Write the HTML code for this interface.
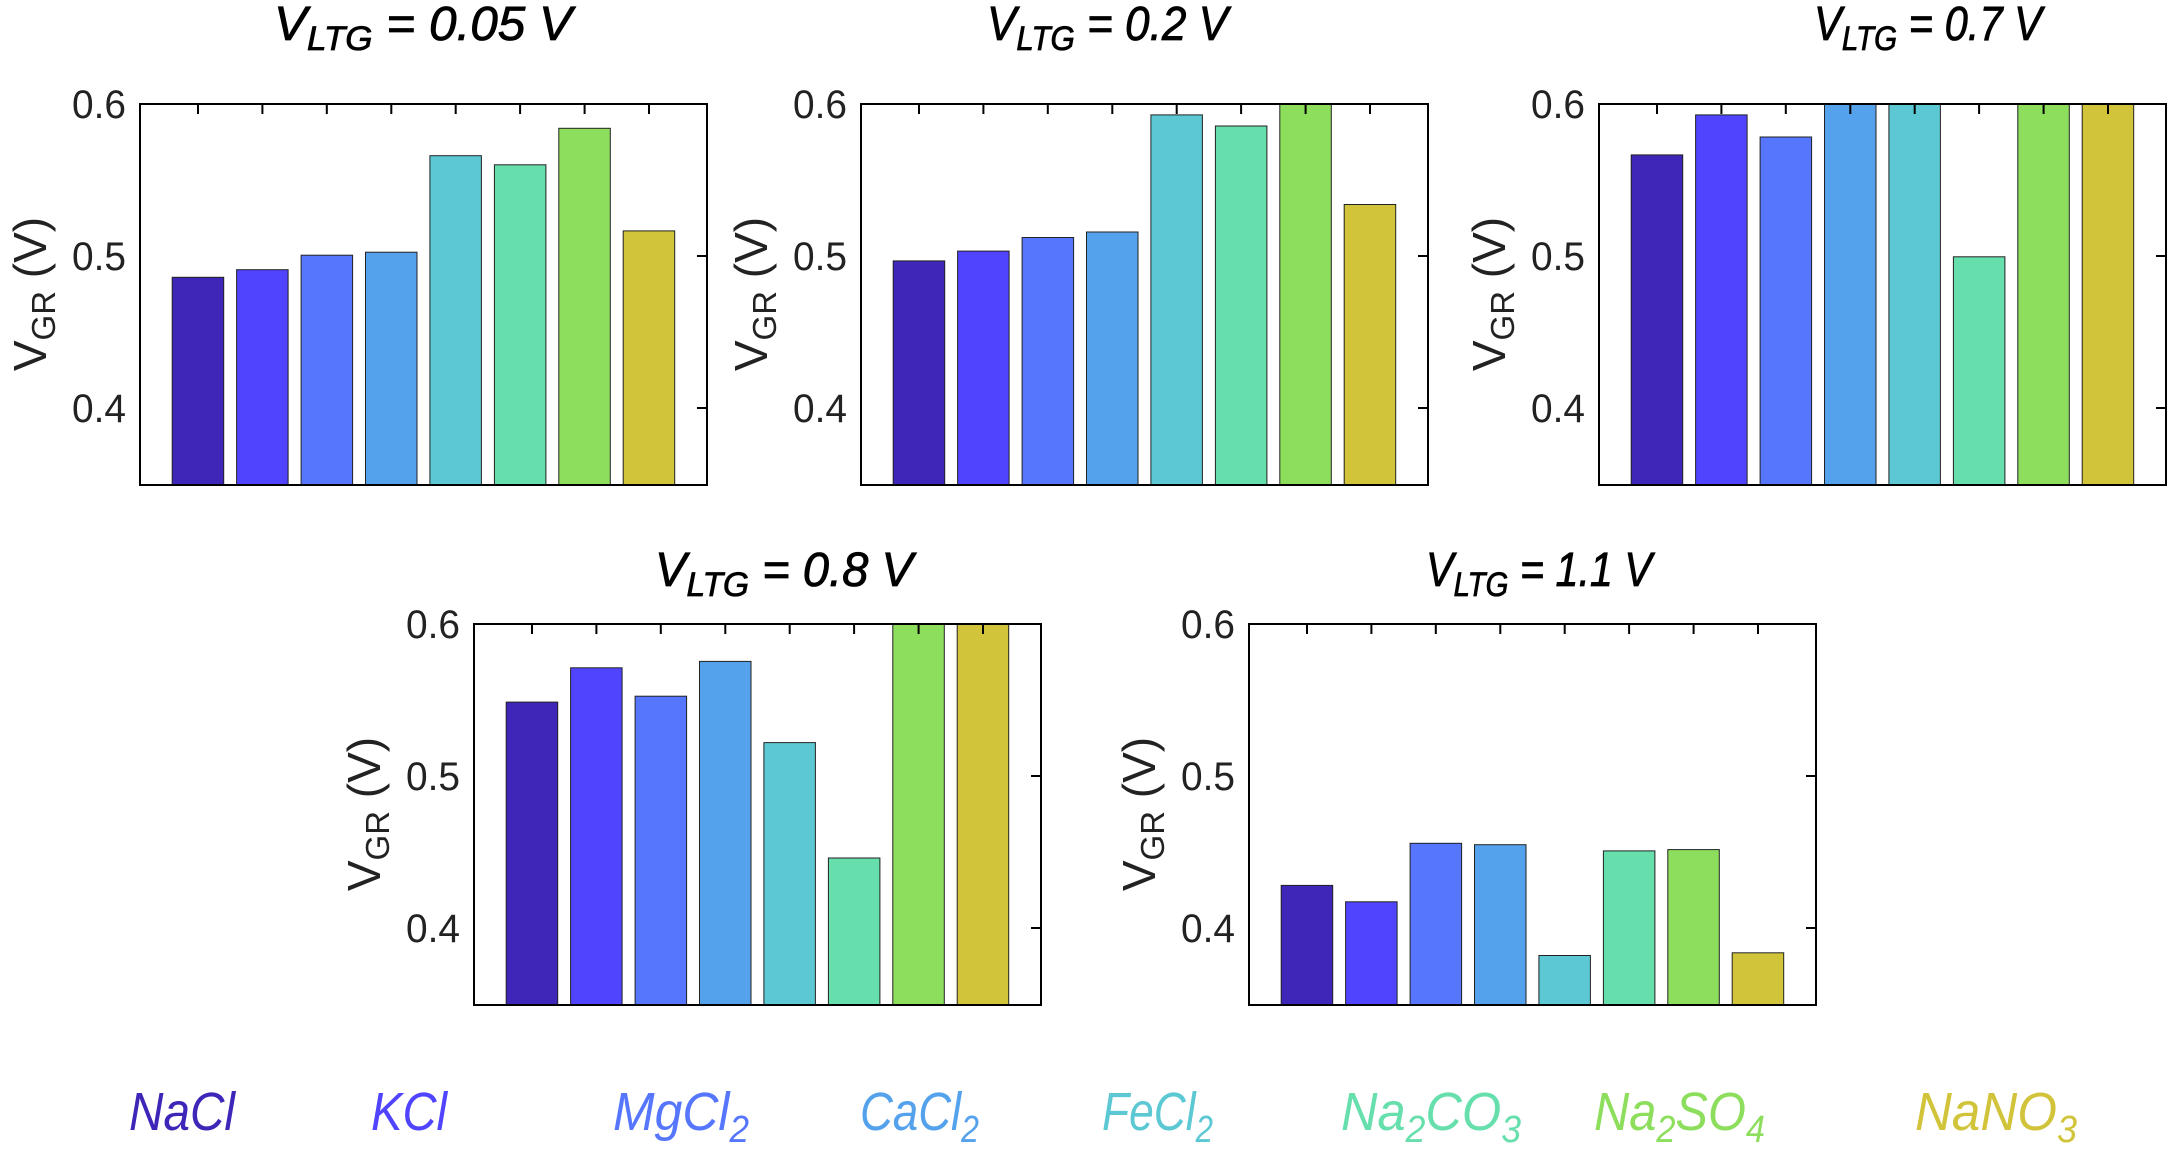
<!DOCTYPE html>
<html><head><meta charset="utf-8"><style>
html,body{margin:0;padding:0;background:#fff;}
svg{display:block;font-family:"Liberation Sans",sans-serif;}
.tl{font-size:40px;text-anchor:end;fill:#222;}
.yl{font-size:46px;text-anchor:middle;fill:#222;}
.tt{font-size:48px;font-style:italic;fill:#000;stroke:#000;stroke-width:0.8;}
.lg{font-size:54px;font-style:italic;}
.ax{fill:none;stroke:#000;stroke-width:2;}
.bar{stroke:#222;stroke-width:1;}
</style></head><body>
<svg width="2168" height="1149" viewBox="0 0 2168 1149" xmlns="http://www.w3.org/2000/svg">
<defs>
<g id="frame">
<path class="ax" d="M58,0v10M122.4,0v10M186.8,0v10M251.3,0v10M315.7,0v10M380.1,0v10M444.6,0v10M509,0v10M557,152h10M557,304h10"/>
<rect class="ax" x="0" y="0" width="567" height="381"/>
<text class="tl" x="-14" y="14" textLength="54" lengthAdjust="spacingAndGlyphs">0.6</text>
<text class="tl" x="-14" y="166" textLength="54" lengthAdjust="spacingAndGlyphs">0.5</text>
<text class="tl" x="-14" y="318" textLength="54" lengthAdjust="spacingAndGlyphs">0.4</text>
<text class="yl" transform="translate(-94,190) rotate(-90)">V<tspan font-size="33" dy="9">GR</tspan><tspan dy="-9"> (V)</tspan></text>
</g>
</defs>

<g transform="translate(140,104)">
<rect class="bar" fill="#4026B8" x="32.2" y="173.3" width="51.5" height="207.7"/>
<rect class="bar" fill="#5044FE" x="96.6" y="165.7" width="51.5" height="215.3"/>
<rect class="bar" fill="#5677FD" x="161.1" y="151.2" width="51.5" height="229.8"/>
<rect class="bar" fill="#55A2EC" x="225.5" y="148.2" width="51.5" height="232.8"/>
<rect class="bar" fill="#5CC8D4" x="289.9" y="51.7" width="51.5" height="329.3"/>
<rect class="bar" fill="#66DFAD" x="354.4" y="60.8" width="51.5" height="320.2"/>
<rect class="bar" fill="#8DDE5C" x="418.8" y="24.3" width="51.5" height="356.7"/>
<rect class="bar" fill="#D1C43A" x="483.2" y="126.9" width="51.5" height="254.1"/>
<use href="#frame"/>
</g>
<text class="tt" x="274" y="40" textLength="298" lengthAdjust="spacingAndGlyphs">V<tspan font-size="34" dy="10">LTG</tspan><tspan dy="-10"> = 0.05 V</tspan></text>

<g transform="translate(861,104)">
<rect class="bar" fill="#4026B8" x="32.2" y="156.9" width="51.5" height="224.1"/>
<rect class="bar" fill="#5044FE" x="96.6" y="147.1" width="51.5" height="233.9"/>
<rect class="bar" fill="#5677FD" x="161.1" y="133.5" width="51.5" height="247.5"/>
<rect class="bar" fill="#55A2EC" x="225.5" y="128" width="51.5" height="253"/>
<rect class="bar" fill="#5CC8D4" x="289.9" y="10.9" width="51.5" height="370.1"/>
<rect class="bar" fill="#66DFAD" x="354.4" y="22" width="51.5" height="359"/>
<rect class="bar" fill="#8DDE5C" x="418.8" y="0" width="51.5" height="381"/>
<rect class="bar" fill="#D1C43A" x="483.2" y="100.5" width="51.5" height="280.5"/>
<use href="#frame"/>
</g>
<text class="tt" x="987" y="40" textLength="241" lengthAdjust="spacingAndGlyphs">V<tspan font-size="34" dy="10">LTG</tspan><tspan dy="-10"> =  0.2 V</tspan></text>

<g transform="translate(1599,104)">
<rect class="bar" fill="#4026B8" x="32.2" y="50.9" width="51.5" height="330.1"/>
<rect class="bar" fill="#5044FE" x="96.6" y="10.9" width="51.5" height="370.1"/>
<rect class="bar" fill="#5677FD" x="161.1" y="33" width="51.5" height="348"/>
<rect class="bar" fill="#55A2EC" x="225.5" y="0" width="51.5" height="381"/>
<rect class="bar" fill="#5CC8D4" x="289.9" y="0" width="51.5" height="381"/>
<rect class="bar" fill="#66DFAD" x="354.4" y="152.8" width="51.5" height="228.2"/>
<rect class="bar" fill="#8DDE5C" x="418.8" y="0" width="51.5" height="381"/>
<rect class="bar" fill="#D1C43A" x="483.2" y="0" width="51.5" height="381"/>
<use href="#frame"/>
</g>
<text class="tt" x="1814" y="40" textLength="228" lengthAdjust="spacingAndGlyphs">V<tspan font-size="34" dy="10">LTG</tspan><tspan dy="-10"> = 0.7 V</tspan></text>

<g transform="translate(474,624)">
<rect class="bar" fill="#4026B8" x="32.2" y="78.1" width="51.5" height="302.9"/>
<rect class="bar" fill="#5044FE" x="96.6" y="43.8" width="51.5" height="337.2"/>
<rect class="bar" fill="#5677FD" x="161.1" y="72.2" width="51.5" height="308.8"/>
<rect class="bar" fill="#55A2EC" x="225.5" y="37.4" width="51.5" height="343.6"/>
<rect class="bar" fill="#5CC8D4" x="289.9" y="118.6" width="51.5" height="262.4"/>
<rect class="bar" fill="#66DFAD" x="354.4" y="234" width="51.5" height="147"/>
<rect class="bar" fill="#8DDE5C" x="418.8" y="0" width="51.5" height="381"/>
<rect class="bar" fill="#D1C43A" x="483.2" y="0" width="51.5" height="381"/>
<use href="#frame"/>
</g>
<text class="tt" x="655" y="586" textLength="258" lengthAdjust="spacingAndGlyphs">V<tspan font-size="34" dy="10">LTG</tspan><tspan dy="-10"> = 0.8 V</tspan></text>

<g transform="translate(1249,624)">
<rect class="bar" fill="#4026B8" x="32.2" y="261.4" width="51.5" height="119.6"/>
<rect class="bar" fill="#5044FE" x="96.6" y="277.8" width="51.5" height="103.2"/>
<rect class="bar" fill="#5677FD" x="161.1" y="219.3" width="51.5" height="161.7"/>
<rect class="bar" fill="#55A2EC" x="225.5" y="220.7" width="51.5" height="160.3"/>
<rect class="bar" fill="#5CC8D4" x="289.9" y="331.5" width="51.5" height="49.5"/>
<rect class="bar" fill="#66DFAD" x="354.4" y="226.9" width="51.5" height="154.1"/>
<rect class="bar" fill="#8DDE5C" x="418.8" y="225.6" width="51.5" height="155.4"/>
<rect class="bar" fill="#D1C43A" x="483.2" y="328.8" width="51.5" height="52.2"/>
<use href="#frame"/>
</g>
<text class="tt" x="1426" y="586" textLength="226" lengthAdjust="spacingAndGlyphs">V<tspan font-size="34" dy="10">LTG</tspan><tspan dy="-10"> = 1.1 V</tspan></text>

<text class="lg" fill="#4026B8" x="129" y="1130" textLength="106" lengthAdjust="spacingAndGlyphs">NaCl</text>
<text class="lg" fill="#5044FE" x="371" y="1130" textLength="76" lengthAdjust="spacingAndGlyphs">KCl</text>
<text class="lg" fill="#5677FD" x="613" y="1130" textLength="136" lengthAdjust="spacingAndGlyphs">MgCl<tspan font-size="38" dy="12">2</tspan></text>
<text class="lg" fill="#55A2EC" x="860" y="1130" textLength="119" lengthAdjust="spacingAndGlyphs">CaCl<tspan font-size="38" dy="12">2</tspan></text>
<text class="lg" fill="#5CC8D4" x="1102" y="1130" textLength="111" lengthAdjust="spacingAndGlyphs">FeCl<tspan font-size="38" dy="12">2</tspan></text>
<text class="lg" fill="#66DFAD" x="1341" y="1130" textLength="180" lengthAdjust="spacingAndGlyphs">Na<tspan font-size="38" dy="12">2</tspan><tspan dy="-12">CO</tspan><tspan font-size="38" dy="12">3</tspan></text>
<text class="lg" fill="#8DDE5C" x="1594" y="1130" textLength="171" lengthAdjust="spacingAndGlyphs">Na<tspan font-size="38" dy="12">2</tspan><tspan dy="-12">SO</tspan><tspan font-size="38" dy="12">4</tspan></text>
<text class="lg" fill="#D1C43A" x="1915" y="1130" textLength="162" lengthAdjust="spacingAndGlyphs">NaNO<tspan font-size="38" dy="12">3</tspan></text>
</svg>
</body></html>
